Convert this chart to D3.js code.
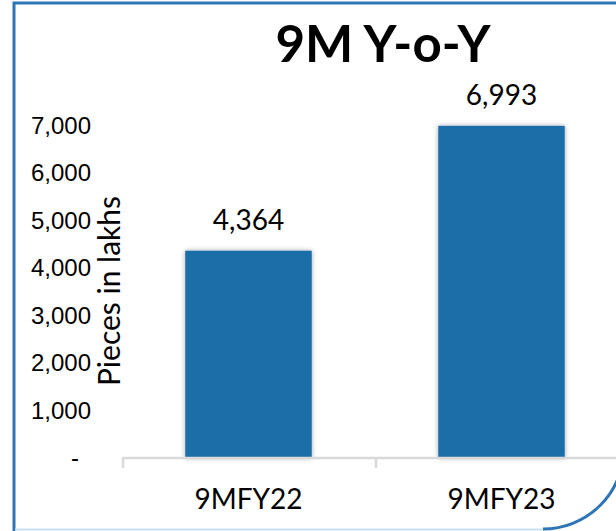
<!DOCTYPE html>
<html>
<head>
<meta charset="utf-8">
<script src="https://cdn.jsdelivr.net/npm/d3@7"></script>
<style>
  body { margin: 0; background: #fff; }
  svg { display: block; font-family: Lato, "Open Sans", sans-serif; }
</style>
</head>
<body>
<div id="chart"></div>
<script>
// 9M Y-o-Y column chart

const categories = ["9MFY22", "9MFY23"];
const values = [4364, 6993];
const yTicks = [0, 1000, 2000, 3000, 4000, 5000, 6000, 7000];
const title = "9M Y-o-Y";
const yLabel = "Pieces in lakhs";

const width = 616, height = 531;

const svg = d3.select("#chart")
    .append("svg")
    .attr("width", width)
    .attr("height", height);

// soft shadow on the bars
const defs = svg.append("defs");
const shadow = defs.append("filter")
    .attr("id", "barShadow")
    .attr("x", "-20%").attr("y", "-10%")
    .attr("width", "140%").attr("height", "120%");
shadow.append("feDropShadow")
    .attr("dx", 0).attr("dy", 0)
    .attr("stdDeviation", 2.5)
    .attr("flood-color", "#000")
    .attr("flood-opacity", 0.35);

// frame: blue left/top edge, rounded bottom-right corner
const r = 81;
svg.append("path")
    .attr("d", `M14,531 L14,3 L640,3 M624,448 A${r},${r} 0 0 1 543,529`)
    .attr("fill", "none")
    .attr("stroke", "#2e75b6")
    .attr("stroke-width", 3);
svg.append("line")
    .attr("x1", 15).attr("x2", 543)
    .attr("y1", 529.5).attr("y2", 529.5)
    .attr("stroke", "#c9e0f2")
    .attr("stroke-width", 2);

const x = d3.scaleBand()
    .domain(categories)
    .range([122, 628])
    .paddingInner(0.5)
    .paddingOuter(0.25);

const y = d3.scaleLinear()
    .domain([0, 7000])
    .range([458, 125.5]);

// y axis (labels only)
const yAxis = svg.append("g")
    .attr("transform", "translate(91,0)")
    .call(d3.axisLeft(y)
        .tickValues(yTicks)
        .tickSize(0)
        .tickPadding(0)
        .tickFormat(d => d === 0 ? "-" : d3.format(",")(d)));
yAxis.select(".domain").remove();
yAxis.selectAll("text")
    .attr("fill", "#000")
    .style("font-size", "24px")
    .attr("dx", d => d === 0 ? -12 : 0);

// bars
svg.selectAll(".bar")
    .data(values)
    .enter().append("rect")
    .attr("class", "bar")
    .attr("x", (d, i) => x(categories[i]))
    .attr("width", x.bandwidth())
    .attr("y", d => y(d))
    .attr("height", d => y(0) - y(d))
    .attr("fill", "#1f6ea8")
    .attr("filter", "url(#barShadow)");

// x axis
const step = x.step();
const xAxisLine = svg.append("g");
xAxisLine.append("line")
    .attr("x1", 122).attr("x2", 640)
    .attr("y1", y(0)).attr("y2", y(0))
    .attr("stroke", "#d9d9d9")
    .attr("stroke-width", 2.5);
xAxisLine.selectAll(".tick")
    .data(d3.range(categories.length + 1))
    .enter().append("line")
    .attr("x1", i => 123 + i * step)
    .attr("x2", i => 123 + i * step)
    .attr("y1", y(0))
    .attr("y2", y(0) + 10)
    .attr("stroke", "#d9d9d9")
    .attr("stroke-width", 2.5);

svg.selectAll(".xlabel")
    .data(categories)
    .enter().append("text")
    .attr("class", "xlabel")
    .attr("x", d => x(d) + x.bandwidth() / 2)
    .attr("y", 509)
    .attr("text-anchor", "middle")
    .style("font-size", "28px")
    .text(d => d);

// value labels
svg.selectAll(".value")
    .data(values)
    .enter().append("text")
    .attr("class", "value")
    .attr("x", (d, i) => x(categories[i]) + x.bandwidth() / 2)
    .attr("y", d => y(d) - 21)
    .attr("text-anchor", "middle")
    .style("font-size", "28px")
    .text(d => d3.format(",")(d));

// axis title
svg.append("text")
    .attr("transform", "translate(120,291) rotate(-90)")
    .attr("text-anchor", "middle")
    .style("font-size", "30px")
    .text(yLabel);

// chart title
svg.append("text")
    .attr("x", 383)
    .attr("y", 62)
    .attr("text-anchor", "middle")
    .style("font-size", "51px")
    .style("font-weight", "bold")
    .text(title);
</script>
</body>
</html>
